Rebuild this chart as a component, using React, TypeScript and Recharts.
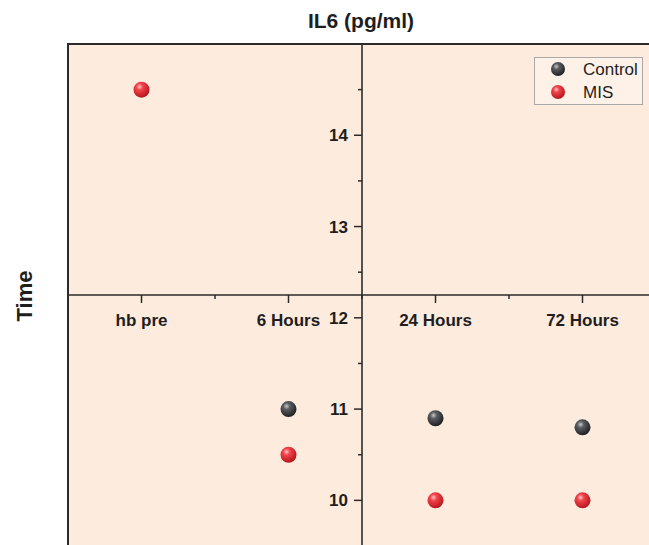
import React from 'react';
import { ScatterChart, Scatter, XAxis, YAxis, ReferenceLine, ReferenceArea } from 'recharts';

const categories = ['hb pre', '6 Hours', '24 Hours', '72 Hours'];
const controlValues: (number | null)[] = [null, 11.0, 10.9, 10.8];
const misValues: (number | null)[] = [14.5, 10.5, 10.0, 10.0];
const xTicks = [0, 0.5, 1, 1.5, 2, 2.5, 3];
const yTicks = [10, 10.5, 11, 11.5, 12, 12.5, 13, 13.5, 14, 14.5];
const xDomain: [number, number] = [-0.5, 3.5];
const yDomain: [number, number] = [9.5, 15];
const xCross = 1.5;
const yCross = 12.25;

const FONT = 'Arial, "Liberation Sans", Helvetica, sans-serif';
const BG = '#FDEBDD';
const AXIS = '#2b2b2b';
const TEXT = '#1e1e1e';

const W = 656;
const H = 547;
const L = 68;
const T = 44;
const PW = W - L;
const PH = H - T - 1;

const crossX = L + ((xCross - xDomain[0]) / (xDomain[1] - xDomain[0])) * PW;
const crossY = T + ((yDomain[1] - yCross) / (yDomain[1] - yDomain[0])) * PH;

const toPoints = (vals: (number | null)[]) =>
  vals
    .map((v, i) => (v == null ? null : { x: i, y: v, name: categories[i] }))
    .filter((p) => p !== null) as { x: number; y: number; name: string }[];

const controlData = toPoints(controlValues);
const misData = toPoints(misValues);

const Sphere = (grad: string, r: number) => (props: any) => {
  const { cx, cy } = props;
  if (cx == null || cy == null) return <g />;
  return <circle cx={cx} cy={cy} r={r} fill={`url(#${grad})`} />;
};

const XTick = (props: any) => {
  const { x, payload } = props;
  const v = payload.value;
  const major = Number.isInteger(v);
  const len = major ? 8 : 4;
  return (
    <g>
      <line x1={x} x2={x} y1={crossY} y2={crossY + len} stroke={AXIS} strokeWidth={1.5} />
      {major && (
        <text x={x} y={crossY + 31} textAnchor="middle" fontFamily={FONT} fontWeight="bold" fontSize={17} fill={TEXT}>
          {categories[v]}
        </text>
      )}
    </g>
  );
};

const YTick = (props: any) => {
  const { y, payload } = props;
  const v = payload.value;
  const major = Number.isInteger(v);
  const len = major ? 8 : 4;
  return (
    <g>
      <line x1={crossX - len} x2={crossX} y1={y} y2={y} stroke={AXIS} strokeWidth={1.5} />
      {major && (
        <text x={crossX - 14} y={y + 6} textAnchor="end" fontFamily={FONT} fontWeight="bold" fontSize={17} fill={TEXT}>
          {v}
        </text>
      )}
    </g>
  );
};

export default function App() {
  return (
    <div style={{ position: 'absolute', left: 0, top: 0, width: 649, height: 545, overflow: 'hidden', background: '#fff' }}>
      <svg width={0} height={0} style={{ position: 'absolute' }}>
        <defs>
          <radialGradient id="gradRed" cx="38%" cy="32%" r="70%">
            <stop offset="0%" stopColor="#ffc4c4" />
            <stop offset="30%" stopColor="#f2434a" />
            <stop offset="100%" stopColor="#b3141c" />
          </radialGradient>
          <radialGradient id="gradGray" cx="38%" cy="32%" r="70%">
            <stop offset="0%" stopColor="#c8c8c8" />
            <stop offset="30%" stopColor="#5a5d60" />
            <stop offset="100%" stopColor="#1c1d1f" />
          </radialGradient>
        </defs>
      </svg>
      <ScatterChart width={W} height={H} margin={{ top: T, right: 0, bottom: 0, left: 8 }}>
        <ReferenceArea
          x1={xDomain[0]}
          x2={xDomain[1]}
          y1={yDomain[0]}
          y2={yDomain[1]}
          fill={BG}
          fillOpacity={1}
          stroke={AXIS}
          strokeWidth={2}
          ifOverflow="extendDomain"
        />
        <XAxis
          type="number"
          dataKey="x"
          domain={xDomain}
          ticks={xTicks}
          interval={0}
          axisLine={false}
          tickLine={false}
          height={1}
          tick={<XTick />}
          allowDataOverflow
        />
        <YAxis
          type="number"
          dataKey="y"
          domain={yDomain}
          ticks={yTicks}
          interval={0}
          axisLine={false}
          tickLine={false}
          width={60}
          tick={<YTick />}
          allowDataOverflow
        />
        <ReferenceLine x={xCross} stroke={AXIS} strokeWidth={1.6} />
        <ReferenceLine y={yCross} stroke={AXIS} strokeWidth={1.6} />
        <Scatter name="Control" data={controlData} shape={Sphere('gradGray', 8)} isAnimationActive={false} />
        <Scatter name="MIS" data={misData} shape={Sphere('gradRed', 8)} isAnimationActive={false} />
      </ScatterChart>
      <svg width={649} height={545} style={{ position: 'absolute', left: 0, top: 0, pointerEvents: 'none' }}>
        <text x={361} y={28} textAnchor="middle" fontFamily={FONT} fontWeight="bold" fontSize={21} fill={TEXT}>
          IL6 (pg/ml)
        </text>
        <text
          transform="translate(31.5,296) rotate(-90)"
          textAnchor="middle"
          fontFamily={FONT}
          fontWeight="bold"
          fontSize={22}
          fill={TEXT}
        >
          Time
        </text>
      </svg>
      <div
        style={{
          position: 'absolute',
          left: 534,
          top: 57,
          width: 109,
          height: 48,
          border: '1px solid #a9a9a9',
          background: '#fdf1e8',
          boxSizing: 'border-box',
        }}
      >
        <svg width={107} height={46}>
          <circle cx={23} cy={11} r={7} fill="url(#gradGray)" />
          <text x={48} y={17} fontFamily={FONT} fontSize={17} fill={TEXT}>
            Control
          </text>
          <circle cx={23} cy={34} r={7} fill="url(#gradRed)" />
          <text x={48} y={40} fontFamily={FONT} fontSize={17} fill={TEXT}>
            MIS
          </text>
        </svg>
      </div>
    </div>
  );
}
